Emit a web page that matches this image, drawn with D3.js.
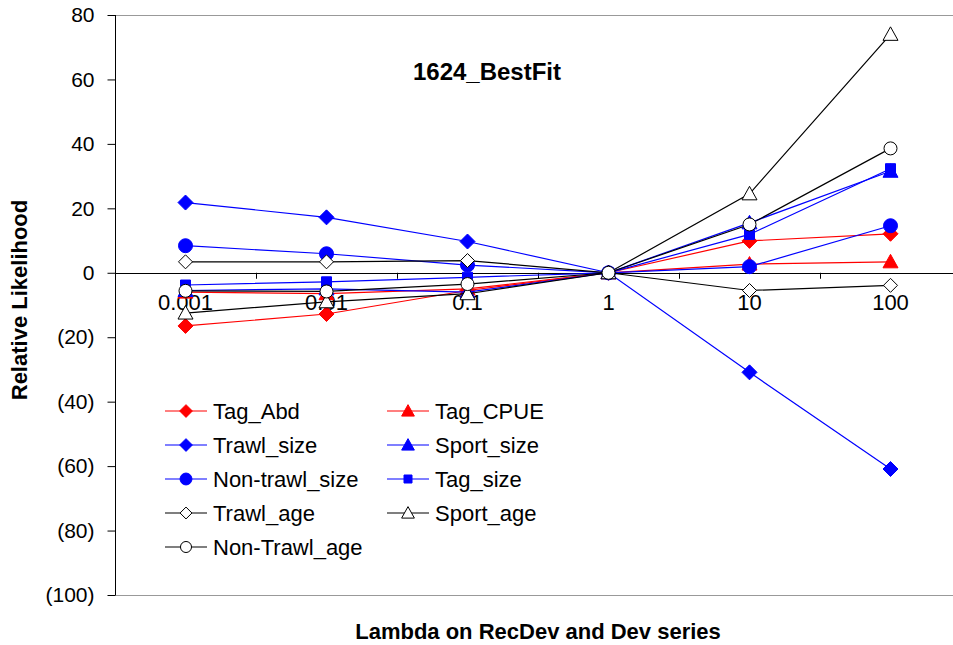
<!DOCTYPE html>
<html><head><meta charset="utf-8">
<script src="https://cdn.jsdelivr.net/npm/d3@7"></script>
<style>body{margin:0;background:#fff}svg{display:block}text{font-family:"Liberation Sans",Arial,sans-serif}</style>
</head><body><svg id="c" width="953" height="645"></svg>
<script>
const categories = ["0.001","0.01","0.1","1","10","100"];
const yTicks = [80,60,40,20,0,-20,-40,-60,-80,-100];
const seriesNames = ["Tag_Abd","Tag_CPUE","Trawl_size","Sport_size","Non-trawl_size","Tag_size","Trawl_age","Sport_age","Non-Trawl_age"];
const tagAbd = [-16.5,-12.8,-5.5,0,9.9,12.1];
const tagCPUE = [-6,-6.5,-5,0,2.7,3.4];
const trawlSize = [21.8,17.2,9.7,0,-30.9,-60.9];
const sportSize = [-5.5,-5,-6,0,15.5,31.5];
const nonTrawlSize = [8.4,5.9,2.4,0,1.9,14.6];
const tagSize = [-3.8,-2.8,-1.4,0,11.9,32.3];
const trawlAge = [3.4,3.4,3.8,0,-5.5,-3.9];
const sportAge = [-12.5,-9,-6.5,0,24.5,74];
const nonTrawlAge = [-5.6,-5.8,-3.5,0,15,38.6];
const seriesValues = [tagAbd,tagCPUE,trawlSize,sportSize,nonTrawlSize,tagSize,trawlAge,sportAge,nonTrawlAge];

const styles = [
 {c:"#FF0000",m:"diamond",f:true},
 {c:"#FF0000",m:"triangle",f:true},
 {c:"#0000FF",m:"diamond",f:true},
 {c:"#0000FF",m:"triangle",f:true},
 {c:"#0000FF",m:"circle",f:true},
 {c:"#0000FF",m:"square",f:true},
 {c:"#000000",m:"diamond",f:false},
 {c:"#000000",m:"triangle",f:false},
 {c:"#000000",m:"circle",f:false}
];

const svg = d3.select("#c");
const pLeft=115, pRight=961, pTop=15, pBottom=595;
const x = d3.scaleBand().domain(categories).range([pLeft,pRight]);
const y = d3.scaleLinear().domain([-100,80]).range([pBottom,pTop]);

// plot border (gray top/bottom)
svg.append("line").attr("x1",pLeft).attr("x2",953).attr("y1",pTop+0.5).attr("y2",pTop+0.5).attr("stroke","#999");
svg.append("line").attr("x1",pLeft).attr("x2",953).attr("y1",pBottom+0.5).attr("y2",pBottom+0.5).attr("stroke","#999");

// y axis
const yAxis = d3.axisLeft(y).tickValues(yTicks).tickSize(8).tickPadding(13)
  .tickFormat(d=> d<0?`(${-d})`:`${d}`);
const ga = svg.append("g").attr("transform",`translate(${pLeft+0.5},0)`).call(yAxis);
ga.select(".domain").attr("stroke","#000").attr("d",`M0,${pTop}V${pBottom}`);
ga.selectAll(".tick line").attr("stroke","#000");
ga.selectAll(".tick text").attr("font-size","21px").attr("fill","#000");

// x axis at y=0
const xAxis = d3.axisBottom(x).tickSize(0).tickPadding(21);
const gx = svg.append("g").attr("transform",`translate(0,${Math.round(y(0))+0.5})`).call(xAxis);
gx.select(".domain").attr("stroke","#000").attr("d",`M${pLeft},0H953`);
gx.selectAll(".tick text").attr("font-size","22px").attr("fill","#000").attr("dy","0.71em");
// category boundary ticks
svg.append("g").selectAll("line").data(categories.slice(1)).join("line")
  .attr("x1",d=>Math.round(x(d))+0.5).attr("x2",d=>Math.round(x(d))+0.5)
  .attr("y1",y(0)).attr("y2",y(0)+6).attr("stroke","#000");

function marker(g, type, cx, cy, st, scale){
  const s = scale||1;
  let el;
  if(type==="circle"){
    el = g.append("circle").attr("cx",cx).attr("cy",cy).attr("r",(st.f?7:6.5)*s);
  } else {
    let p;
    if(type==="diamond"){ const r=(st.f?7.5:7)*s; p=`M${cx},${cy-r}L${cx+r},${cy}L${cx},${cy+r}L${cx-r},${cy}Z`; }
    else if(type==="triangle"){ const r=7.5*s; p=`M${cx},${cy-r}L${cx+r},${cy+r*0.8}L${cx-r},${cy+r*0.8}Z`; }
    else { const r=5*s; p=`M${cx-r},${cy-r}H${cx+r}V${cy+r}H${cx-r}Z`; }
    el = g.append("path").attr("d",p);
  }
  el.attr("fill",st.f?st.c:"#fff").attr("stroke",st.c).attr("stroke-width",1);
}

const line = d3.line().x((d,i)=>x(categories[i])+x.bandwidth()/2).y(d=>y(d));
const gs = svg.append("g");
seriesValues.forEach((vals,k)=>{
  const st=styles[k];
  const g = gs.append("g");
  g.append("path").attr("d",line(vals)).attr("fill","none").attr("stroke",st.c).attr("stroke-width",1.2);
  vals.forEach((v,i)=>marker(g,st.m,x(categories[i])+x.bandwidth()/2,y(v),st));
});

// title
svg.append("text").attr("x",487).attr("y",80).attr("text-anchor","middle")
  .attr("font-size","24px").attr("font-weight","bold").text("1624_BestFit");
// axis titles
svg.append("text").attr("transform","translate(27,300) rotate(-90)").attr("text-anchor","middle")
  .attr("font-size","22px").attr("font-weight","bold").text("Relative Likelihood");
svg.append("text").attr("x",538).attr("y",639).attr("text-anchor","middle")
  .attr("font-size","22px").attr("font-weight","bold").text("Lambda on RecDev and Dev series");

// legend
const lg = svg.append("g");
seriesNames.forEach((n,k)=>{
  const col=k%2, row=Math.floor(k/2);
  const lx = col===0?165:387, ly = 411+row*34;
  const st=styles[k];
  lg.append("line").attr("x1",lx).attr("x2",lx+42).attr("y1",ly).attr("y2",ly).attr("stroke",st.c).attr("stroke-width",1.2);
  marker(lg,st.m,lx+21,ly,st,st.m==="square"?0.8:0.85);
  lg.append("text").attr("x",lx+48).attr("y",ly+8).attr("font-size","22px").text(n);
});
</script></body></html>
